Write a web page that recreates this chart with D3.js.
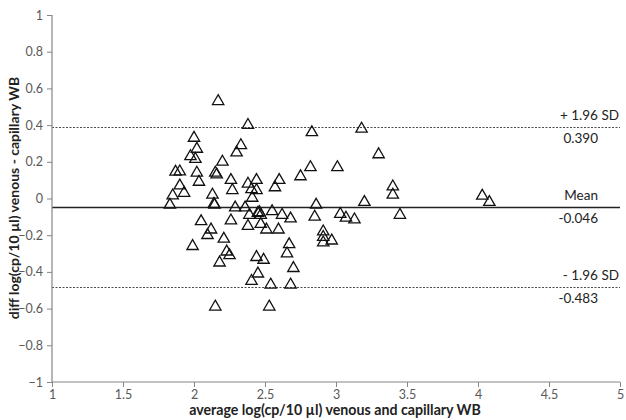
<!DOCTYPE html>
<html>
<head>
<meta charset="utf-8">
<script src="https://cdn.jsdelivr.net/npm/d3@7"></script>
<style>
  html, body { margin: 0; padding: 0; background: #fff; }
  svg { display: block; font-family: Lato, "Open Sans", sans-serif; }
</style>
</head>
<body>
<svg id="chart" width="626" height="420"></svg>
<script>
// ---- data ----
const xValues = [2.17, 2.38, 2.00, 2.02, 1.975, 2.01, 2.20, 2.33, 2.30, 1.87,
  1.90, 2.02, 2.15, 2.16, 2.035, 1.90, 1.93, 1.85, 2.13, 1.83,
  2.14, 2.145, 2.26, 2.27, 2.38, 2.44, 2.405, 2.44, 2.41, 2.60,
  2.57, 2.75, 2.29, 2.36, 2.55, 2.26, 2.39, 2.45, 2.47, 2.62,
  2.68, 2.38, 2.47, 2.51, 2.595, 2.05, 2.12, 2.095, 2.21, 1.99,
  2.23, 2.25, 2.18, 2.15, 2.67, 2.655, 2.44, 2.49, 2.70, 2.45,
  2.405, 2.54, 2.68, 2.53, 2.83, 3.18, 3.30, 2.82, 3.01, 2.86,
  3.20, 2.85, 3.03, 3.07, 3.13, 2.91, 2.91, 2.91, 2.97, 3.40,
  3.40, 3.45, 4.03, 4.08, 2.46];
const yValues = [0.53, 0.40, 0.33, 0.27, 0.23, 0.215, 0.20, 0.29, 0.25, 0.145,
  0.147, 0.14, 0.14, 0.13, 0.09, 0.07, 0.03, 0.016, 0.02, -0.035,
  -0.03, -0.035, 0.10, 0.045, 0.08, 0.10, 0.05, 0.045, 0.003, 0.10,
  0.06, 0.12, -0.05, -0.05, -0.07, -0.12, -0.09, -0.08, -0.09, -0.09,
  -0.11, -0.15, -0.14, -0.17, -0.17, -0.125, -0.17, -0.20, -0.22, -0.26,
  -0.29, -0.31, -0.35, -0.59, -0.25, -0.30, -0.32, -0.335, -0.38, -0.41,
  -0.45, -0.47, -0.47, -0.59, 0.36, 0.38, 0.24, 0.17, 0.17, -0.035,
  -0.02, -0.10, -0.085, -0.105, -0.115, -0.18, -0.21, -0.24, -0.23, 0.065,
  0.02, -0.09, 0.014, -0.02, -0.075];
const xTicks = [1, 1.5, 2, 2.5, 3, 3.5, 4, 4.5, 5];
const yTicks = [-1, -0.8, -0.6, -0.4, -0.2, 0, 0.2, 0.4, 0.6, 0.8, 1];
const refNames = ["+ 1.96 SD", "Mean", "- 1.96 SD"];
const refValues = [0.390, -0.046, -0.483];
const refLabels = ["0.390", "-0.046", "-0.483"];
const xTitle = "average log(cp/10 µl) venous and capillary WB";
const yTitle = "diff log(cp/10 µl) venous - capillary WB";

// ---- drawing ----
const svg = d3.select("#chart");
const x = d3.scaleLinear().domain([1, 5]).range([52, 620]);
const y = d3.scaleLinear().domain([-1, 1]).range([382, 15]);
const axisColor = "#868686";
const textColor = "#595959";

// reference lines
svg.selectAll("line.ref").data(refValues).enter().append("line")
  .attr("x1", x(1)).attr("x2", x(5))
  .attr("y1", d => Math.round(y(d)) + 0.5).attr("y2", d => Math.round(y(d)) + 0.5)
  .attr("stroke", (d, i) => i === 1 ? "#222" : "#333")
  .attr("stroke-width", (d, i) => i === 1 ? 1.3 : 0.9)
  .attr("stroke-dasharray", (d, i) => i === 1 ? null : "2,1.5");

svg.selectAll("text.refname").data(refNames).enter().append("text")
  .attr("x", (d, i) => i === 1 ? 598 : 619)
  .attr("y", (d, i) => y(refValues[i]) - 7)
  .attr("text-anchor", "end")
  .attr("font-size", 13.5).attr("fill", "#222")
  .text(d => d);
svg.selectAll("text.refval").data(refLabels).enter().append("text")
  .attr("x", 598)
  .attr("y", (d, i) => y(refValues[i]) + 16)
  .attr("text-anchor", "end")
  .attr("font-size", 13.5).attr("fill", "#222")
  .text(d => d);

// axes
const yAxis = d3.axisLeft(y).tickValues(yTicks).tickSize(5).tickPadding(4)
  .tickFormat(d => d3.format("")(+d.toFixed(1)));
const gy = svg.append("g").attr("transform", `translate(${x(1)},0)`).call(yAxis);
const xAxis = d3.axisBottom(x).tickValues(xTicks).tickSize(5).tickPadding(3)
  .tickFormat(d => String(d));
const gx = svg.append("g").attr("transform", `translate(0,${y(-1)})`).call(xAxis);
[gx, gy].forEach(g => {
  g.select(".domain").attr("stroke", axisColor).attr("stroke-width", 1.2);
  g.selectAll(".tick line").attr("stroke", axisColor);
  g.selectAll(".tick text").attr("fill", textColor).attr("font-size", 12.5)
    .attr("font-family", "Lato, sans-serif");
});
gy.select(".domain").attr("d", `M0,${y(1)}V${y(-1)}`);
gx.select(".domain").attr("d", `M${x(1)},0H${x(5)}`);

// points
const tri = d3.symbol().type(d3.symbolTriangle).size(56);
svg.selectAll("path.pt").data(xValues).enter().append("path")
  .attr("d", tri)
  .attr("transform", (d, i) => `translate(${x(d)},${y(yValues[i])})`)
  .attr("fill", "none").attr("stroke", "#111").attr("stroke-width", 1.3);

// titles
svg.append("text").attr("x", 335).attr("y", 415).attr("text-anchor", "middle")
  .attr("font-weight", "bold").attr("font-size", 14.2).attr("fill", "#222")
  .text(xTitle);
svg.append("text").attr("transform", "translate(19,198) rotate(-90)")
  .attr("text-anchor", "middle")
  .attr("font-weight", "bold").attr("font-size", 14).attr("fill", "#222")
  .text(yTitle);
</script>
</body>
</html>
